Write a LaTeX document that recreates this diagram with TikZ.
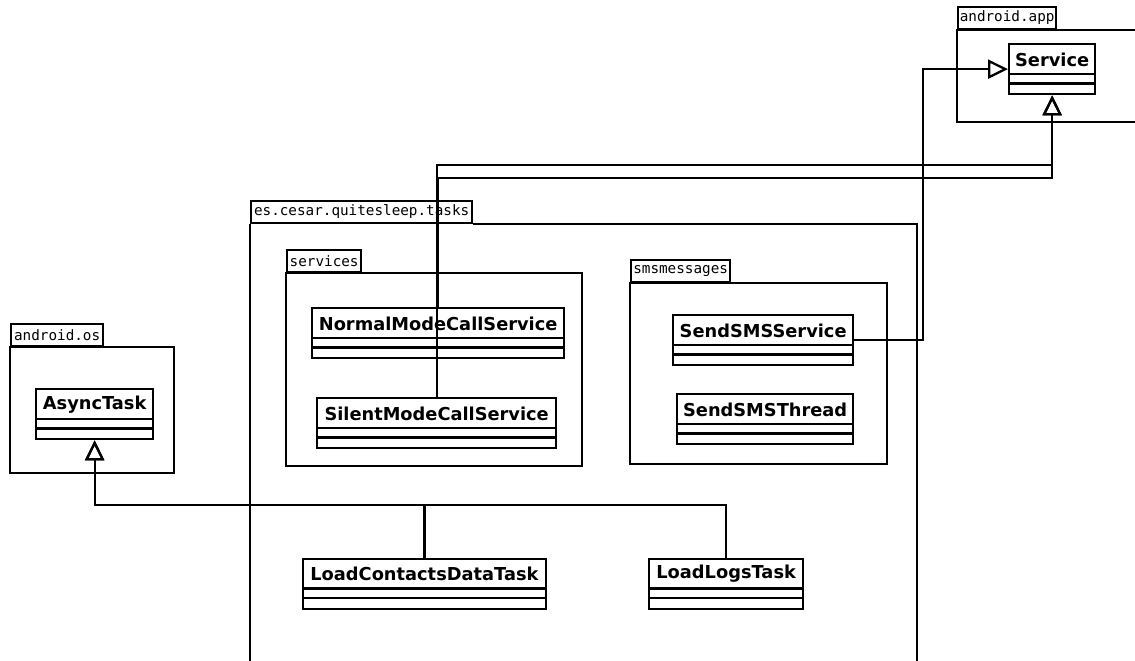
\documentclass[tikz,border=0pt]{standalone}
\usepackage{fontspec}
\newfontfamily\clsfont{DejaVu Sans}
\newfontfamily\pkgfont{DejaVu Sans Mono}
\usetikzlibrary{arrows.meta,calc}
\tikzset{
  lw/.style={line width=2.3pt},
  clsbox/.style={draw, lw, minimum height=50pt, inner sep=0pt, anchor=north west},
  clstext/.style={font=\clsfont\bfseries\fontsize{17.8}{17.8}\selectfont, inner sep=0pt, anchor=center},
  pkgtab/.style={draw, lw, inner sep=0pt, minimum height=22pt, anchor=south west,
    font=\pkgfont\fontsize{14.3}{14.3}\selectfont},
  pkgbody/.style={draw, lw},
  gen/.style={lw, -{Triangle[open, length=20pt, width=19pt]}},
}
\newcommand\umlclass[5]{%
  \node[clsbox, minimum width=#4pt] (#1) at (#2,#3) {};
  \node[clstext] (#1-t) at ($(#1.north)+(0,16.5)$) {#5};
  \draw[lw] ($(#1.north west)+(0,31)$) -- ($(#1.north east)+(0,31)$);
  \draw[lw] ($(#1.north west)+(0,40.5)$) -- ($(#1.north east)+(0,40.5)$);
}
\begin{document}
\begin{tikzpicture}[x=1pt, y=-1pt]
  \clip (0,0) rectangle (1135,661);
  \fill[white] (0,0) rectangle (1135,661);

  % packages
  \node[pkgtab, minimum width=98pt] (apptab) at (957,30) {android.app};
  \draw[pkgbody] (apptab.south west) rectangle (1150,122);

  \node[pkgtab, minimum width=221pt] (taskstab) at (250,224) {es.cesar.quitesleep.tasks};
  \draw[pkgbody] (taskstab.south west) -- (250,680) (taskstab.south east) -- (917,224) -- (917,680);

  \node[pkgtab, minimum width=74pt] (srvtab) at (286,273) {services};
  \draw[pkgbody] (srvtab.south west) rectangle (582,466);

  \node[pkgtab, minimum width=99pt] (smstab) at (630,283) {smsmessages};
  \draw[pkgbody] (smstab.south west) rectangle (887,464);

  \node[pkgtab, minimum width=92pt] (ostab) at (10,347) {android.os};
  \draw[pkgbody] (ostab.south west) rectangle (174,473);

  % classes
  \umlclass{service}{1008}{43}{86}{Service}
  \umlclass{async}{35}{388}{117}{AsyncTask}
  \umlclass{normal}{311}{307}{252}{NormalModeCallService}
  \umlclass{silent}{316}{397}{239}{SilentModeCallService}
  \umlclass{sendsms}{672}{314}{180}{SendSMSService}
  \umlclass{smsthread}{676}{393}{176}{SendSMSThread}
  \umlclass{contacts}{301.5}{557.5}{243.5}{LoadContactsDataTask}
  \umlclass{logs}{648}{557.5}{154}{LoadLogsTask}

  % generalizations
  \draw[gen] (sendsms.east) -- ++(69,0) |- (service.west);
  \draw[gen] (silent.north) |- (service.south |- 0,165) -- (service.south);
  \draw[gen] (normal.north) |- (service.south |- 0,178) -- (service.south);
  \draw[gen] (contacts.north) |- (async.south |- 0,505) -- (async.south);
  \draw[gen] (logs.north) |- (async.south |- 0,505) -- (async.south);
\end{tikzpicture}
\end{document}
